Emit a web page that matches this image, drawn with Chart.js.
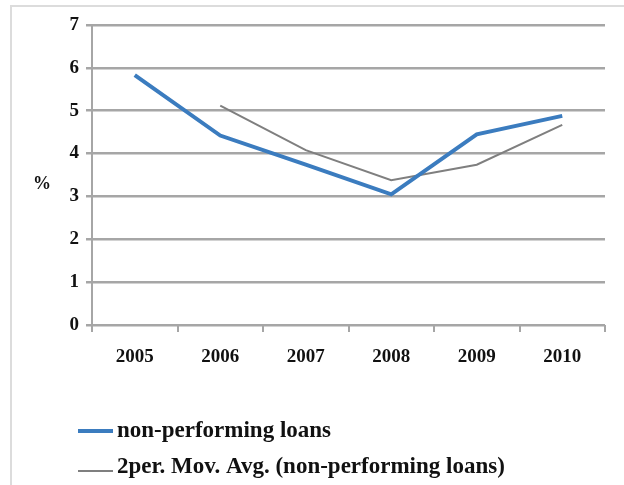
<!DOCTYPE html>
<html>
<head>
<meta charset="utf-8">
<script src="https://cdn.jsdelivr.net/npm/chart.js@4/dist/chart.umd.min.js"></script>
<style>
  html, body { margin: 0; padding: 0; background: #ffffff; overflow: hidden; }
  #wrap { position: relative; width: 624px; height: 485px; overflow: hidden; }
  #frame { position: absolute; left: 10px; top: 5px; width: 700px; height: 600px;
           border-left: 2px solid #dcdcdc; border-top: 2px solid #dcdcdc; }
  canvas { position: absolute; left: 0; top: 0; }
</style>
</head>
<body>
<div id="wrap">
  <div id="frame"></div>
  <canvas id="chart" width="624" height="485"></canvas>
</div>
<script>
// Years on the horizontal axis
const years = ['2005', '2006', '2007', '2008', '2009', '2010'];
// Share of non-performing loans, %
const nplValues = [5.83, 4.42, 3.74, 3.05, 4.45, 4.88];
// Two-period moving average of the same series (first period has no value)
const movAvgValues = [null, 5.12, 4.08, 3.38, 3.74, 4.67];
// Series names
const seriesNames = ['non-performing loans', '2per. Mov. Avg. (non-performing loans)'];
const yAxisTitle = '%';

const serif = '"Liberation Serif", "Times New Roman", serif';

// Upright "%" axis title and a stacked legend below the plot
const extrasPlugin = {
  id: 'extras',
  afterDraw(chart) {
    const ctx = chart.ctx;
    const area = chart.chartArea;
    ctx.save();
    ctx.fillStyle = '#111';
    ctx.font = 'bold 18px ' + serif;
    ctx.textAlign = 'center';
    ctx.textBaseline = 'middle';
    ctx.fillText(yAxisTitle, 42, (area.top + area.bottom) / 2 + 9);

    const rows = [431, 467];
    chart.data.datasets.forEach((ds, i) => {
      const y = rows[i];
      const lineY = y + (i === 1 ? 4 : 0);
      ctx.beginPath();
      ctx.strokeStyle = ds.borderColor;
      ctx.lineWidth = ds.borderWidth;
      ctx.moveTo(78, lineY);
      ctx.lineTo(113, lineY);
      ctx.stroke();
      ctx.fillStyle = '#111';
      ctx.font = 'bold 23px ' + serif;
      ctx.textAlign = 'left';
      ctx.textBaseline = 'middle';
      ctx.fillText(ds.label, 117, y);
    });
    ctx.restore();
  }
};

new Chart(document.getElementById('chart'), {
  type: 'line',
  data: {
    labels: years,
    datasets: [
      {
        label: seriesNames[0],
        data: nplValues,
        borderColor: '#3b7cbf',
        borderWidth: 4,
        pointRadius: 0,
        tension: 0,
        fill: false
      },
      {
        label: seriesNames[1],
        data: movAvgValues,
        borderColor: '#7f7f7f',
        borderWidth: 2,
        pointRadius: 0,
        tension: 0,
        fill: false,
        spanGaps: false
      }
    ]
  },
  options: {
    responsive: false,
    animation: false,
    layout: { padding: { top: 25, right: 19, bottom: 0, left: 0 } },
    plugins: {
      legend: { display: false },
      tooltip: { enabled: false }
    },
    scales: {
      x: {
        offset: true,
        grid: {
          display: true,
          offset: true,
          drawOnChartArea: false,
          drawTicks: true,
          tickLength: 7,
          color: '#a6a6a6',
          lineWidth: 2
        },
        border: { display: false },
        ticks: {
          color: '#111',
          font: { family: serif, size: 19, weight: 'bold' },
          padding: 14,
          maxRotation: 0
        },
        afterFit(scale) { scale.height = 160; }
      },
      y: {
        min: 0,
        max: 7,
        grid: {
          color: '#a6a6a6',
          lineWidth: 2.5,
          drawTicks: true,
          tickLength: 6
        },
        border: { display: true, color: '#a6a6a6', width: 2 },
        ticks: {
          stepSize: 1,
          color: '#111',
          font: { family: serif, size: 19, weight: 'bold' },
          padding: 7
        },
        afterFit(scale) { scale.width = 92; }
      }
    }
  },
  plugins: [extrasPlugin]
});
</script>
</body>
</html>
